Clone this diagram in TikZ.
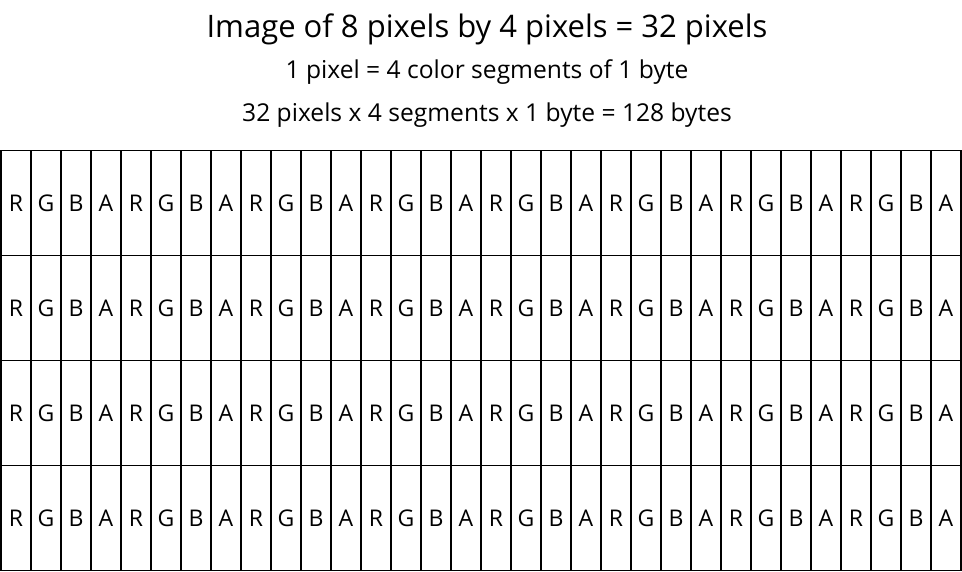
\documentclass[tikz,border=0pt]{standalone}
\usepackage{fontspec}
\setmainfont{Open Sans}
\begin{document}
\begin{tikzpicture}[
  x=1pt, y=-1pt,
  cell/.style = {draw, line width=1.6pt, minimum width=30pt, minimum height=105pt,
    inner sep=0pt, font=\fontsize{23}{23}\selectfont},
  caption/.style = {font=\fontsize{24.6}{24.6}\selectfont}]
  \useasboundingbox (0,0) rectangle (962,572);

  % nadpisy
  \node[font=\fontsize{31}{31}\selectfont] (title) at (487,29) {Image of 8 pixels by 4 pixels = 32 pixels};
  \node[caption] (sub1) at (487,72) {1 pixel = 4 color segments of 1 byte};
  \node[caption] (sub2) at (487,115) {32 pixels x 4 segments x 1 byte = 128 bytes};

  % bunky - riadky, pixely, farebne zlozky
  \foreach \r in {0,...,3}
    \foreach \p in {0,...,7}
      \foreach \ch [count=\k from 0] in {R,G,B,A}
        \node[cell] (c-\r-\p-\k) at ({16 + 30*(4*\p+\k)}, {203 + 105*\r}) {\ch};

\end{tikzpicture}
\end{document}
